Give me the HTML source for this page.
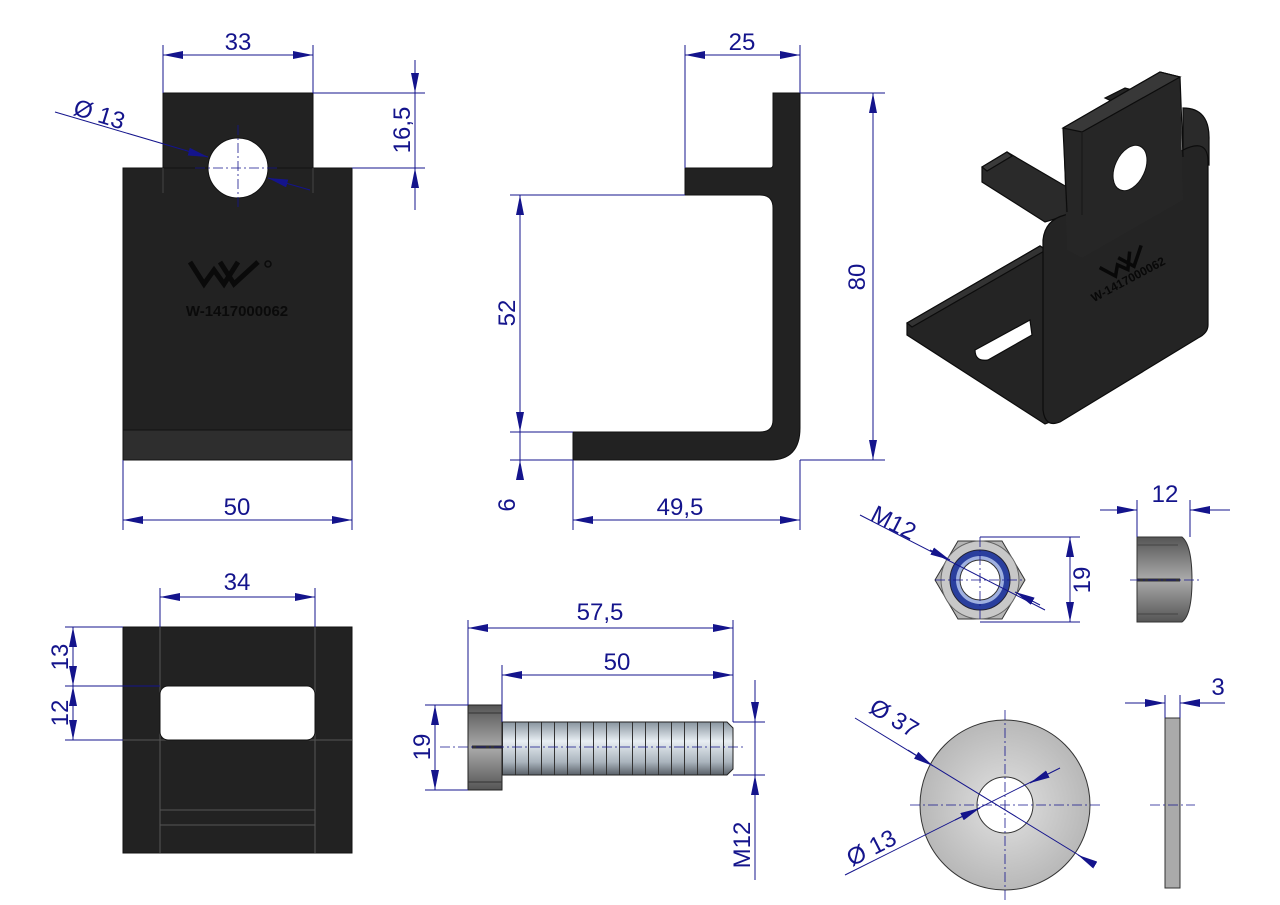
<!DOCTYPE html>
<html><head><meta charset="utf-8"><style>body{margin:0;background:#fff}svg{display:block}</style></head><body>
<svg width="1280" height="905" viewBox="0 0 1280 905" xmlns="http://www.w3.org/2000/svg" font-family="Liberation Sans, sans-serif">
<defs>
<marker id="a" viewBox="0 0 20 8" refX="20" refY="4" markerWidth="20" markerHeight="8" markerUnits="userSpaceOnUse" orient="auto-start-reverse"><path d="M0,0 L20,4 L0,8 Z" fill="#14148c"/></marker>
<linearGradient id="thr" x1="0" y1="0" x2="0" y2="1"><stop offset="0" stop-color="#7d8a95"/><stop offset="0.35" stop-color="#e8eef3"/><stop offset="0.7" stop-color="#aab4bd"/><stop offset="1" stop-color="#3a4048"/></linearGradient>
<linearGradient id="hd" x1="0" y1="0" x2="0" y2="1"><stop offset="0" stop-color="#555"/><stop offset="0.5" stop-color="#aaa"/><stop offset="1" stop-color="#555"/></linearGradient>
<radialGradient id="ws" cx="0.5" cy="0.5" r="0.5"><stop offset="0" stop-color="#e2e2e2"/><stop offset="1" stop-color="#b8b8b8"/></radialGradient>
<pattern id="th" width="13" height="60" patternUnits="userSpaceOnUse" x="502"><rect width="13" height="60" fill="url(#thr)"/><line x1="0.5" y1="0" x2="0.5" y2="60" stroke="#333" stroke-width="1"/></pattern>
</defs>
<g fill="#222" stroke="#111">
<rect x="163" y="93" width="150" height="80"/>
<rect x="123" y="168" width="229" height="292"/>
<rect x="123" y="430" width="229" height="30" fill="#2e2e2e"/>
<line x1="163" y1="168" x2="163" y2="193" stroke="#444"/><line x1="313" y1="168" x2="313" y2="193" stroke="#444"/>
<circle cx="238" cy="168" r="30" fill="#fff"/>
<path d="M773,93 L800,93 L800,428 Q800,460 770,460 L573,460 L573,432 L760,432 Q773,432 773,420 L773,208 Q773,195 760,195 L685,195 L685,168 L770,168 Q773,168 773,165 Z"/>
<rect x="123" y="627" width="229" height="226"/>
</g>
<g stroke="#555" fill="none">
<line x1="160" y1="627" x2="160" y2="853"/><line x1="315" y1="627" x2="315" y2="853"/>
<line x1="160" y1="740" x2="352" y2="740"/><line x1="123" y1="740" x2="160" y2="740"/>
<line x1="160" y1="810" x2="315" y2="810"/><line x1="160" y1="825" x2="315" y2="825"/>
</g>
<rect x="160" y="686" width="155" height="54" rx="8" fill="#fff" stroke="#111"/>
<g stroke="#0a0a0a" stroke-width="5" fill="none" stroke-linejoin="miter">
<path d="M190,262 L204,284 L214,270 L224,284 L238,262"/>
<path d="M220,262 L234,284 L258,262"/>
</g>
<circle cx="268" cy="264" r="3" fill="none" stroke="#0a0a0a" stroke-width="1.5"/>
<text x="237" y="316" font-size="15" font-weight="bold" text-anchor="middle" fill="#0a0a0a">W-1417000062</text>
<!-- 3D view -->
<g fill="#242424" stroke="#0c0c0c" stroke-width="1.2">
<path d="M1183,108 Q1210,108 1209,140 L1209,165 L1183,160 Z" fill="#2a2a2a"/>
<path d="M1105,98 L1125,88 L1140,92 L1120,105 Z"/>
<path d="M907,323 L1040,246 L1050,252 L1055,420 L1045,424 L907,335 Z"/>
<path d="M907,323 L1040,246 L1046,250 L912,327 Z" fill="#333"/>
<path d="M982,167 L1007,152 L1072,190 L1068,215 L1045,222 L982,182 Z" fill="#2a2a2a"/>
<path d="M982,167 L1007,152 L1012,156 L987,171 Z" fill="#3a3a3a"/>
<path d="M1043,240 Q1045,220 1065,215 L1183,150 Q1207,138 1208,160 L1208,325 Q1208,333 1198,338 L1060,422 Q1045,428 1043,410 Z"/>
<path d="M1063,128 L1160,72 L1180,77 L1183,200 L1082,258 L1067,250 Z" fill="#262626" stroke="none"/>
<path d="M1063,128 L1160,72 L1180,77 L1183,157 M1063,128 L1067,212" fill="none"/>
<path d="M1063,128 L1160,72 L1180,77 L1082,132 Z" fill="#383838"/>
<path d="M1082,132 L1082,215" fill="none" stroke="#1a1a1a"/>
<path d="M975,350 L1030,320 L1032,335 L988,360 Q975,362 975,350 Z" fill="#fff"/>
</g>
<ellipse cx="1130" cy="168" rx="15" ry="24" transform="rotate(25 1130 168)" fill="#fff" stroke="#111"/>
<g transform="rotate(-28 1125 262)" stroke="#080808" stroke-width="3.5" fill="none">
<path d="M1100,255 L1110,270 L1117,261 L1124,270 L1134,255"/>
<path d="M1121,255 L1131,270 L1147,255"/>
</g>
<text x="1130" y="283" font-size="12" font-weight="bold" fill="#080808" text-anchor="middle" transform="rotate(-28 1130 283)">W-1417000062</text>
<rect x="468" y="705" width="34" height="85" fill="url(#hd)" stroke="#222"/>
<line x1="472" y1="747" x2="502" y2="747" stroke="#333" stroke-width="3"/>
<line x1="468" y1="713" x2="502" y2="713" stroke="#333"/><line x1="468" y1="782" x2="502" y2="782" stroke="#333"/>
<path d="M502,722 L727,722 L733,728 L733,769 L727,775 L502,775 Z" fill="url(#th)" stroke="#222"/>
<polygon points="1025,580 1002,619 958,619 935,580 958,541 1002,541" fill="#b5b5b5" stroke="#333"/>
<circle cx="980" cy="580" r="39" fill="#c8c8c8" stroke="#666"/>
<circle cx="980" cy="580" r="30" fill="#2a3f9e" stroke="#223"/>
<circle cx="980" cy="580" r="24" fill="#9fb0e0"/>
<circle cx="980" cy="580" r="20" fill="#fff" stroke="#333"/>
<path d="M1137,537 L1182,537 Q1192,545 1192,580 Q1192,615 1182,622 L1137,622 Z" fill="url(#hd)" stroke="#333"/>
<line x1="1137" y1="580" x2="1180" y2="580" stroke="#333" stroke-width="3"/>
<line x1="1137" y1="545" x2="1178" y2="545" stroke="#444"/><line x1="1137" y1="614" x2="1178" y2="614" stroke="#444"/>
<circle cx="1005" cy="805" r="85" fill="url(#ws)" stroke="#333"/>
<circle cx="1005" cy="805" r="28" fill="#fff" stroke="#333"/>
<rect x="1165" y="718" width="15" height="170" fill="#aaa" stroke="#333"/>
<g stroke="#14148c" stroke-width="1" fill="none">
<path d="M163,93V45 M313,93V45 M313,93H425 M352,168H425 M123,460V530 M352,460V530
M685,168V45 M800,93V45 M800,93H885 M800,460H885 M685,195H510 M573,432H510 M573,460H510 M573,460V530 M800,460V530
M160,627V588 M315,627V588 M123,627H65 M160,686H65 M123,740H65
M468,705V620 M733,722V620 M502,722V665 M468,705H425 M468,790H425 M733,722H765 M733,775H765
M980,537H1080 M980,622H1080 M1137,537V500 M1190,537V500 M1165,718V695 M1180,718V695"/>
<path d="M163,55H313" marker-start="url(#a)" marker-end="url(#a)"/>
<path d="M415,60V93" marker-end="url(#a)"/><path d="M415,210V168" marker-end="url(#a)"/><path d="M415,93V168"/>
<path d="M123,520H352" marker-start="url(#a)" marker-end="url(#a)"/>
<path d="M685,55H800" marker-start="url(#a)" marker-end="url(#a)"/>
<path d="M873,93V460" marker-start="url(#a)" marker-end="url(#a)"/>
<path d="M520,195V432" marker-start="url(#a)" marker-end="url(#a)"/>
<path d="M520,480V460" marker-end="url(#a)"/><path d="M520,432V460"/>
<path d="M573,520H800" marker-start="url(#a)" marker-end="url(#a)"/>
<path d="M160,597H315" marker-start="url(#a)" marker-end="url(#a)"/>
<path d="M73,627V686" marker-start="url(#a)" marker-end="url(#a)"/>
<path d="M73,686V740" marker-start="url(#a)" marker-end="url(#a)"/>
<path d="M468,628H733" marker-start="url(#a)" marker-end="url(#a)"/>
<path d="M502,675H733" marker-start="url(#a)" marker-end="url(#a)"/>
<path d="M435,705V790" marker-start="url(#a)" marker-end="url(#a)"/>
<path d="M755,680V722" marker-end="url(#a)"/><path d="M755,880V775" marker-end="url(#a)"/><path d="M755,722V775"/>
<path d="M1070,537V622" marker-start="url(#a)" marker-end="url(#a)"/>
<path d="M1100,510H1137" marker-end="url(#a)"/><path d="M1230,510H1190" marker-end="url(#a)"/>
<path d="M1125,703H1165" marker-end="url(#a)"/><path d="M1225,703H1180" marker-end="url(#a)"/>
<path d="M55,112L208,157" /><path d="M190,152L208,157" marker-end="url(#a)"/><path d="M310,190L268,178" marker-end="url(#a)"/>
<path d="M860,515L1045,610"/><path d="M930,550L950,560" marker-end="url(#a)"/><path d="M1040,605L1015,592" marker-end="url(#a)"/>
<path d="M855,718L1090,862"/><path d="M908,750L933,766" marker-end="url(#a)"/><path d="M1090,862L1078,855" marker-end="url(#a)"/>
<path d="M845,875L1045,775"/><path d="M955,820L980,808" marker-end="url(#a)"/><path d="M1060,768L1030,783" marker-end="url(#a)"/>
</g>
<g stroke="#14148c" stroke-width="0.8" stroke-dasharray="10,3,2,3" fill="none">
<path d="M238,125V210 M195,168H280 M440,747H745 M935,580H1025 M980,537V622 M1130,580H1200 M910,805H1100 M1005,710V900 M1150,805H1195"/>
</g>
<g fill="#14148c" font-size="24" text-anchor="middle">
<text x="238" y="50">33</text>
<text x="237" y="515">50</text>
<text x="742" y="50">25</text>
<text x="680" y="515">49,5</text>
<text x="237" y="590">34</text>
<text x="600" y="620">57,5</text>
<text x="617" y="670">50</text>
<text x="1165" y="502">12</text>
<text x="1218" y="695">3</text>
<text transform="translate(410,130) rotate(-90)">16,5</text>
<text transform="translate(865,277) rotate(-90)">80</text>
<text transform="translate(515,313) rotate(-90)">52</text>
<text transform="translate(515,505) rotate(-90)">6</text>
<text transform="translate(68,657) rotate(-90)">13</text>
<text transform="translate(68,713) rotate(-90)">12</text>
<text transform="translate(430,747) rotate(-90)">19</text>
<text transform="translate(750,845) rotate(-90)">M12</text>
<text transform="translate(1090,580) rotate(-90)">19</text>
<text transform="translate(97,122) rotate(17)">Ø 13</text>
<text transform="translate(890,530) rotate(27)">M12</text>
<text transform="translate(890,725) rotate(31)">Ø 37</text>
<text transform="translate(875,855) rotate(-27)">Ø 13</text>
</g>
</svg>
</body></html>
